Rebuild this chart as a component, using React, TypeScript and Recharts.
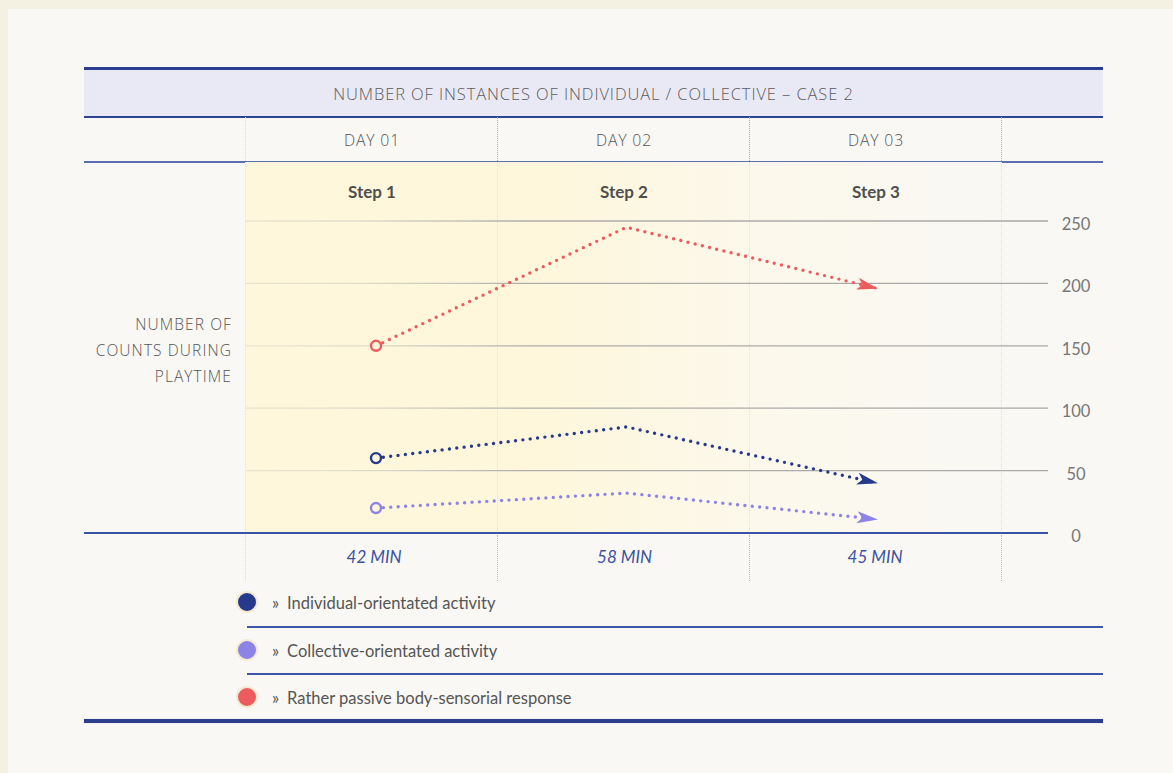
import React from "react";
import { LineChart, Line, XAxis, YAxis, CartesianGrid } from "recharts";

const steps = ["Step 1", "Step 2", "Step 3"];
const days = ["DAY 01", "DAY 02", "DAY 03"];
const minutes = ["42 MIN", "58 MIN", "45 MIN"];
const individual = [60, 85, 40];
const collective = [20, 32, 11];
const passive = [150, 245, 196];
const yTicks = [0, 50, 100, 150, 200, 250];

const series = [
  { key: "individual", label: "Individual-orientated activity", color: "#27398c" },
  { key: "collective", label: "Collective-orientated activity", color: "#8d82e6" },
  { key: "passive", label: "Rather passive body-sensorial response", color: "#ec5b5e" },
];

const data = steps.map((step, i) => ({
  step,
  individual: individual[i],
  collective: collective[i],
  passive: passive[i],
}));

const W = 1173;
const H = 773;
const plotLeft = 245;
const plotRight = 1048;
const plotTop = 221;
const plotBottom = 533;
const colLeft = 246;
const colW = 252;

const light = "'Open Sans', sans-serif";
const body = "Lato, sans-serif";

function abs(style: React.CSSProperties): React.CSSProperties {
  return { position: "absolute", ...style };
}

function StartDot(props: any) {
  const { cx, cy, index, stroke } = props;
  if (index !== 0 || cx == null) return <g key={props.key} />;
  return <circle key={props.key} cx={cx} cy={cy} r={5} fill="#fef7dc" stroke={stroke} strokeWidth={2.4} />;
}

function XTick(props: any) {
  const { x, y, index } = props;
  return (
    <text x={x - 2} y={y} dy={30} textAnchor="middle" fill="#3d52a0" fontStyle="italic" fontSize={17} fontFamily={body}>
      {minutes[index]}
    </text>
  );
}

function YTick(props: any) {
  const { x, y, payload } = props;
  return (
    <text x={x + 28} y={y} dy={9} textAnchor="middle" fill="#777" fontSize={16.5} fontFamily={body}>
      {payload.value}
    </text>
  );
}

export default function App() {
  const dividers = [0, 1, 2, 3].map((i) => colLeft + i * colW - 1);
  return (
    <div style={abs({ left: 0, top: 0, width: W, height: H, background: "#f4f0e2", overflow: "hidden" })}>
      <div style={abs({ left: 8, top: 9, width: W - 8, height: H - 9, background: "#f9f8f4" })} />

      {/* header band */}
      <div style={abs({ left: 84, top: 67, width: 1019, height: 3, background: "#2b3f8e" })} />
      <div style={abs({ left: 84, top: 70, width: 1019, height: 46, background: "#e9e9f5" })} />
      <div style={abs({ left: 84, top: 116, width: 1019, height: 1.5, background: "#2d4394" })} />
      <div
        style={abs({
          left: 84,
          top: 71,
          width: 1019,
          height: 46,
          lineHeight: "46px",
          textAlign: "center",
          fontFamily: light,
          fontWeight: 300,
          fontSize: 16.5,
          letterSpacing: 0.9,
          color: "#5c5c5c",
        })}
      >
        NUMBER OF INSTANCES OF INDIVIDUAL / COLLECTIVE – CASE 2
      </div>
      <div style={abs({ left: 84, top: 161, width: 1019, height: 1.5, background: "#5a6fb0" })} />

      {/* yellow band */}
      <div
        style={abs({
          left: colLeft,
          top: 162,
          width: 3 * colW,
          height: plotBottom - 162,
          background: "linear-gradient(to right, #fef7db 0%, #fef7dc 40%, #fcf8ea 65%, #f9f8f4 100%)",
        })}
      />

      {/* column dividers */}
      {dividers.map((x, i) => (
        <React.Fragment key={i}>
          <div style={abs({ left: x, top: 117, height: 44, borderLeft: `1px dotted ${i === 0 ? "#e2dbc4" : "#aaa"}` })} />
          <div style={abs({ left: x, top: 162, height: plotBottom - 162, borderLeft: "1px dotted #e8e1c8" })} />
          <div style={abs({ left: x, top: plotBottom + 2, height: 46, borderLeft: `1px dotted ${i === 0 ? "#e2dbc4" : "#bbb"}` })} />
        </React.Fragment>
      ))}

      {days.map((d, i) => (
        <div
          key={d}
          style={abs({
            left: colLeft + i * colW,
            top: 118,
            width: colW,
            height: 44,
            lineHeight: "44px",
            textAlign: "center",
            fontFamily: light,
            fontWeight: 300,
            fontSize: 15.8,
            letterSpacing: 0.8,
            color: "#555",
          })}
        >
          {d}
        </div>
      ))}

      {steps.map((s, i) => (
        <div
          key={s}
          style={abs({
            left: colLeft + i * colW,
            top: 180,
            width: colW,
            height: 24,
            lineHeight: "24px",
            textAlign: "center",
            fontFamily: body,
            fontWeight: 700,
            fontSize: 17,
            color: "#4f4f4f",
          })}
        >
          {s}
        </div>
      ))}

      <div
        style={abs({
          left: 60,
          top: 311,
          width: 172,
          textAlign: "right",
          fontFamily: light,
          fontWeight: 300,
          fontSize: 15.5,
          lineHeight: "26px",
          letterSpacing: 1.1,
          color: "#555",
        })}
      >
        NUMBER OF
        <br />
        COUNTS DURING
        <br />
        PLAYTIME
      </div>

      <div style={abs({ left: 0, top: 0 })}>
        <LineChart
          width={W}
          height={H}
          data={data}
          margin={{ top: plotTop, left: plotLeft, right: W - plotRight - 60, bottom: H - plotBottom - 40 }}
        >
          <defs>
            <linearGradient id="gridGrad" gradientUnits="userSpaceOnUse" x1={plotLeft} y1={0} x2={plotRight} y2={0}>
              <stop offset="0" stopColor="#ebe5cf" />
              <stop offset="0.15" stopColor="#dfdbcc" />
              <stop offset="0.35" stopColor="#adadab" />
              <stop offset="1" stopColor="#a8a8a8" />
            </linearGradient>
            {series.map((s) => (
              <marker
                key={s.key}
                id={`arrow-${s.key}`}
                markerUnits="userSpaceOnUse"
                markerWidth={21}
                markerHeight={15}
                viewBox="0 0 21 15"
                refX={20}
                refY={7.5}
                orient="auto"
              >
                <path d="M0,1.5 L21,7.5 L0,13.5 L5,7.5 Z" fill={s.color} />
              </marker>
            ))}
          </defs>
          <CartesianGrid vertical={false} stroke="url(#gridGrad)" strokeWidth={1.3} />
          <XAxis
            dataKey="step"
            height={40}
            axisLine={false}
            tickLine={false}
            tickSize={0}
            tickMargin={0}
            padding={{ left: 131, right: 171 }}
            tick={<XTick />}
            interval={0}
          />
          <YAxis
            orientation="right"
            width={60}
            domain={[0, 250]}
            ticks={yTicks}
            axisLine={false}
            tickLine={false}
            tickSize={0}
            tickMargin={0}
            tick={<YTick />}
            interval={0}
          />
          {series.map((s) => (
            <Line
              key={s.key}
              type="linear"
              dataKey={s.key}
              stroke={s.color}
              strokeWidth={3.4}
              strokeDasharray="0 7.4"
              strokeLinecap="round"
              dot={(p: any) => <StartDot {...p} stroke={s.color} />}
              activeDot={false}
              markerEnd={`url(#arrow-${s.key})`}
              isAnimationActive={false}
            />
          ))}
        </LineChart>
      </div>

      <div style={abs({ left: 84, top: plotBottom - 1, width: plotRight - 84, height: 2, background: "#3a52a5" })} />

      {/* legend */}
      {series.map((s, i) => (
        <React.Fragment key={s.key}>
          <div
            style={abs({
              left: 247 - 11,
              top: 602 + i * 47.5 - 11,
              width: 18,
              height: 18,
              borderRadius: "50%",
              background: s.color,
              border: "2px solid #f3ead0",
            })}
          />
          <div
            style={abs({
              left: 272,
              top: 591 + i * 47.5,
              height: 24,
              lineHeight: "24px",
              fontFamily: body,
              fontSize: 16.5,
              color: "#555",
              whiteSpace: "nowrap",
            })}
          >
            <span style={{ marginRight: 8 }}>»</span>
            {s.label}
          </div>
          {i < 2 && <div style={abs({ left: 247, top: 626 + i * 47, width: 1103 - 247, height: 1.5, background: "#3e56a8" })} />}
        </React.Fragment>
      ))}
      <div style={abs({ left: 84, top: 719, width: 1019, height: 3.5, background: "#2b3f8e", boxShadow: "0 0 1px #9aa6d0" })} />
    </div>
  );
}
